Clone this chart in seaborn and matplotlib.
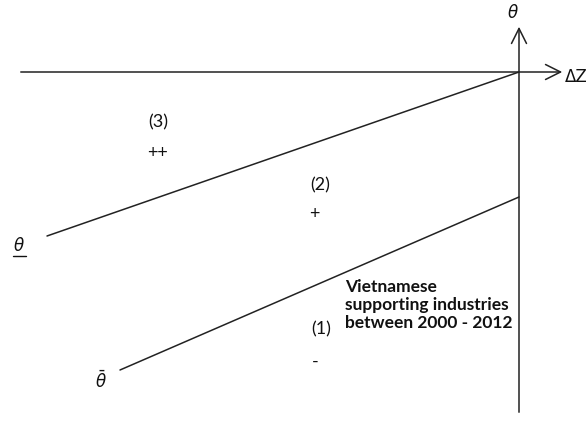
import matplotlib
matplotlib.use("Agg")
import matplotlib.pyplot as plt
import seaborn as sns
import pandas as pd

# Diagram geometry (image-pixel coordinate space)
line_names = ["theta_low", "theta_bar"]
line_x0 = [47, 120]
line_y0 = [236, 370]
line_x1 = [519, 519]
line_y1 = [72, 197]

axis_h_x = [18, 565]
axis_h_y = [72, 72]
axis_v_x = [519, 519]
axis_v_y = [415, 24]

region_labels = ["(3)", "++", "(2)", "+", "(1)", "-"]
region_x = [158, 157, 320, 314, 321, 315]
region_y = [122, 153, 185, 214, 329, 362]

note_text = "Vietnamese\nsupporting industries\nbetween 2000 - 2012"

sns.set_theme(style="white")
plt.rcParams['font.family'] = ['Lato', 'DejaVu Sans']

fig = plt.figure(figsize=(5.87, 4.21), dpi=100)
ax = fig.add_axes([0, 0, 1, 1])
ax.set_xlim(0, 587)
ax.set_ylim(421, 0)
ax.axis("off")

df = pd.DataFrame({
    "x": line_x0 + line_x1,
    "y": line_y0 + line_y1,
    "line": line_names + line_names,
})
sns.lineplot(data=df, x="x", y="y", hue="line", palette=["#222222", "#222222"],
             linewidth=1.1, legend=False, ax=ax, sort=False, estimator=None)

arrow_style = dict(arrowstyle="->,head_length=0.9,head_width=0.45", color="#222222", lw=1.1)
ax.annotate("", xy=(axis_h_x[1], axis_h_y[1]), xytext=(axis_h_x[0], axis_h_y[0]),
            arrowprops=arrow_style)
ax.annotate("", xy=(axis_v_x[1], axis_v_y[1]), xytext=(axis_v_x[0], axis_v_y[0]),
            arrowprops=arrow_style)

ax.text(565, 77, "ΔZ", fontsize=12, ha="left", va="center",
        family="DejaVu Sans", color="#111111")
ax.text(513, 12, r"$\theta$", fontsize=12, ha="center", va="center", color="#111111")

# underlined theta
ax.text(19, 245, r"$\theta$", fontsize=12, ha="center", va="center", color="#111111")
ax.plot([13, 26], [256, 256], color="#111111", lw=1.0)
ax.text(101, 380, r"$\bar{\theta}$", fontsize=12, ha="center", va="center", color="#111111")

for lab, x, y in zip(region_labels, region_x, region_y):
    ax.text(x, y, lab, fontsize=13, ha="center", va="center", color="#111111")

ax.text(345, 305, note_text, fontsize=12.5, fontweight="bold", ha="left", va="center",
        linespacing=1.15, color="#111111")

fig.savefig("out.png", dpi=100, facecolor="white")
